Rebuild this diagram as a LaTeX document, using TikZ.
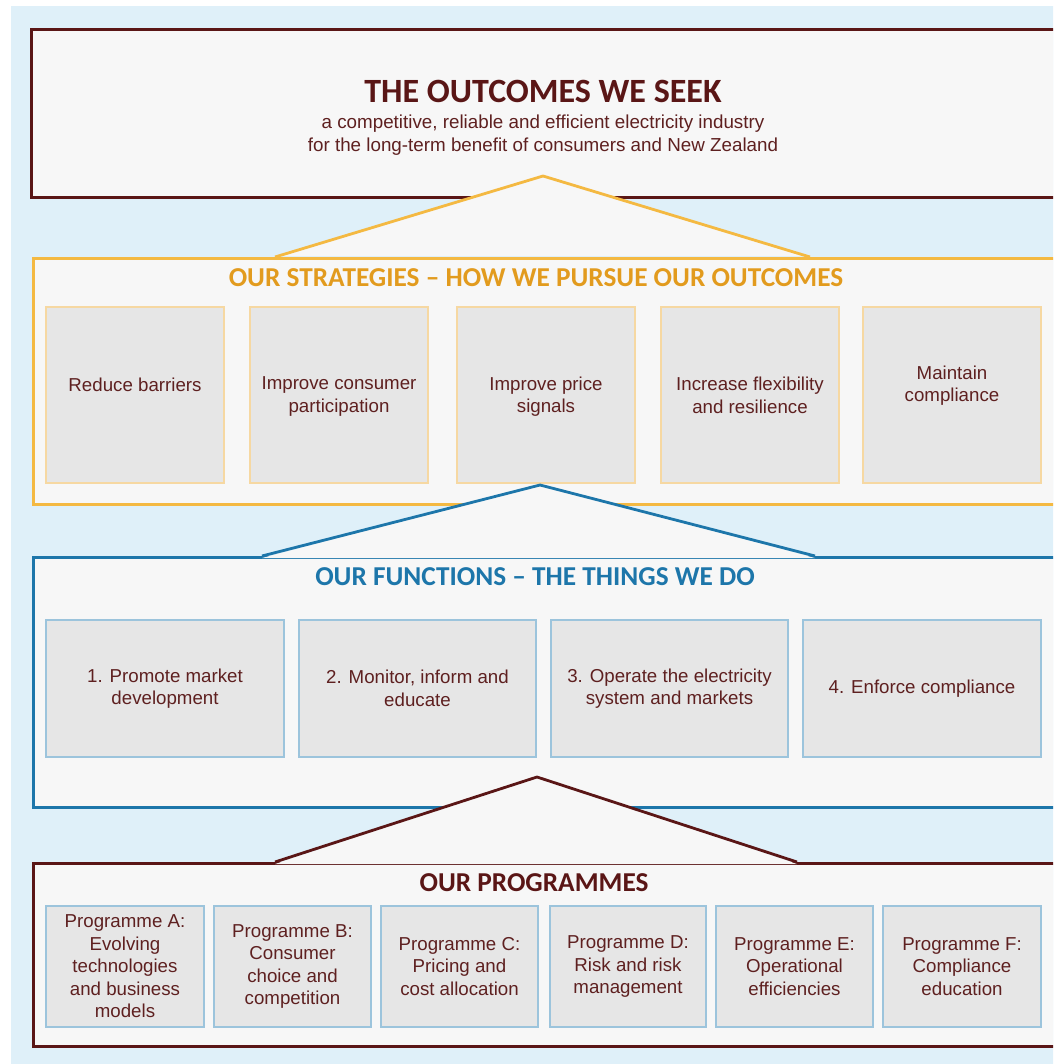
\documentclass[tikz,border=0pt]{standalone}
\usepackage{fontspec}
\setmainfont{Liberation Sans}
\newfontfamily\headfont{Carlito}
\definecolor{bgblue}{HTML}{DFF0F9}
\definecolor{panel}{HTML}{F7F7F7}
\definecolor{inner}{HTML}{E6E6E6}
\definecolor{maroon}{HTML}{5A1616}
\definecolor{txt}{HTML}{5E2020}
\definecolor{gold}{HTML}{F4B942}
\definecolor{goldtxt}{HTML}{E29B1E}
\definecolor{goldthin}{HTML}{F6D8A2}
\definecolor{fblue}{HTML}{1D76AA}
\definecolor{thinblue}{HTML}{9CC4DC}
\tikzset{
  panelbox/.style={draw, line width=3pt, fill=panel, anchor=north west, inner sep=0pt},
  innerbox/.style={draw, line width=1.2pt, fill=inner, inner sep=0pt, text=txt, align=center,
    font=\fontsize{18.7}{22.5}\selectfont},
  lbl/.style={text=txt, align=center, inner sep=0pt, font=\fontsize{18.7}{22.5}\selectfont},
  head/.style={inner sep=0pt, font=\headfont\bfseries\fontsize{27.3}{30}\selectfont},
  roofline/.style={line width=2.8pt, line join=miter}
}
\begin{document}
\begin{tikzpicture}[x=1pt,y=-1pt]
\useasboundingbox (0,0) rectangle (1053,1064);
\clip (0,0) rectangle (1053,1064);
\fill[white] (0,0) rectangle (1053,1064);
\fill[bgblue] (11,6) rectangle (1070,1080);

% outcomes
\node[panelbox, draw=maroon, minimum width=1050pt, minimum height=168pt] (outc) at (30,28) {};
\node[head, text=maroon, font=\headfont\bfseries\fontsize{34}{36}\selectfont] (outct) at (543,91) {THE OUTCOMES WE SEEK};
\node[lbl, font=\fontsize{18.8}{23}\selectfont] (outcs) at (543,135) {a competitive, reliable and efficient electricity industry\\for the long-term benefit of consumers and New Zealand};

% strategies
\node[panelbox, draw=gold, minimum width=1050pt, minimum height=246pt] (strat) at (32,257) {};
\fill[panel] (543,176) -- (810,256) -- (275,256) -- cycle;
\coordinate (r1a) at (543,176);
\coordinate (r1l) at (275,257);
\coordinate (r1r) at (810,257);
\draw[roofline, draw=gold] (r1l) -- (r1a) -- (r1r);
\node[head, text=goldtxt] (stratt) at (536,277.5) {OUR STRATEGIES – HOW WE PURSUE OUR OUTCOMES};

\foreach \n/\cx in {s1/135, s2/339, s3/546, s4/750, s5/952}
  \node[innerbox, draw=goldthin, minimum width=178pt, minimum height=176pt] (\n) at (\cx,395) {};
\node[lbl] (s1t) at (135,385) {Reduce barriers};
\node[lbl] (s2t) at (339,396.5) {Improve consumer\\participation};
\node[lbl] (s3t) at (546,396.5) {Improve price\\signals};
\node[lbl] (s4t) at (750,395.5) {Increase flexibility\\and resilience};
\node[lbl] (s5t) at (952,385.5) {Maintain\\compliance};

% functions
\node[panelbox, draw=fblue, minimum width=1050pt, minimum height=250pt] (func) at (32,556) {};
\fill[panel] (540,485) -- (815,558) -- (262,558) -- cycle;
\coordinate (r2a) at (540,485);
\coordinate (r2l) at (262,556);
\coordinate (r2r) at (815,556);
\draw[roofline, draw=fblue] (r2l) -- (r2a) -- (r2r);
\node[head, text=fblue] (funct) at (535,576.5) {OUR FUNCTIONS – THE THINGS WE DO};

\node[innerbox, draw=thinblue, minimum width=238pt, minimum height=137pt] (f1) at (165,688.5) {1. Promote market\\development};
\node[innerbox, draw=thinblue, minimum width=237pt, minimum height=137pt] (f2) at (417.5,688.5) {2. Monitor, inform and\\educate};
\node[innerbox, draw=thinblue, minimum width=237pt, minimum height=137pt] (f3) at (669.5,688.5) {3. Operate the electricity\\system and markets};
\node[innerbox, draw=thinblue, minimum width=238pt, minimum height=137pt] (f4) at (922,688.5) {4. Enforce compliance};

% programmes
\node[panelbox, draw=maroon, minimum width=1050pt, minimum height=183pt] (prog) at (32,862) {};
\fill[panel] (537,777) -- (797,864) -- (275,864) -- cycle;
\coordinate (r3a) at (537,777);
\coordinate (r3l) at (275,862);
\coordinate (r3r) at (797,862);
\draw[roofline, draw=maroon] (r3l) -- (r3a) -- (r3r);
\node[head, text=maroon] (progt) at (534,882.5) {OUR PROGRAMMES};

\node[innerbox, draw=thinblue, minimum width=158pt, minimum height=121pt] (pA) at (125,966.5) {Programme A:\\Evolving\\technologies\\and business\\models};
\node[innerbox, draw=thinblue, minimum width=157pt, minimum height=121pt] (pB) at (292.5,966.5) {Programme B:\\Consumer\\choice and\\competition};
\node[innerbox, draw=thinblue, minimum width=157pt, minimum height=121pt] (pC) at (459.5,966.5) {Programme C:\\Pricing and\\cost allocation};
\node[innerbox, draw=thinblue, minimum width=156pt, minimum height=121pt] (pD) at (628,966.5) {Programme D:\\Risk and risk\\management};
\node[innerbox, draw=thinblue, minimum width=157pt, minimum height=121pt] (pE) at (794.5,966.5) {Programme E:\\Operational\\efficiencies};
\node[innerbox, draw=thinblue, minimum width=158pt, minimum height=121pt] (pF) at (962,966.5) {Programme F:\\Compliance\\education};
\end{tikzpicture}
\end{document}
